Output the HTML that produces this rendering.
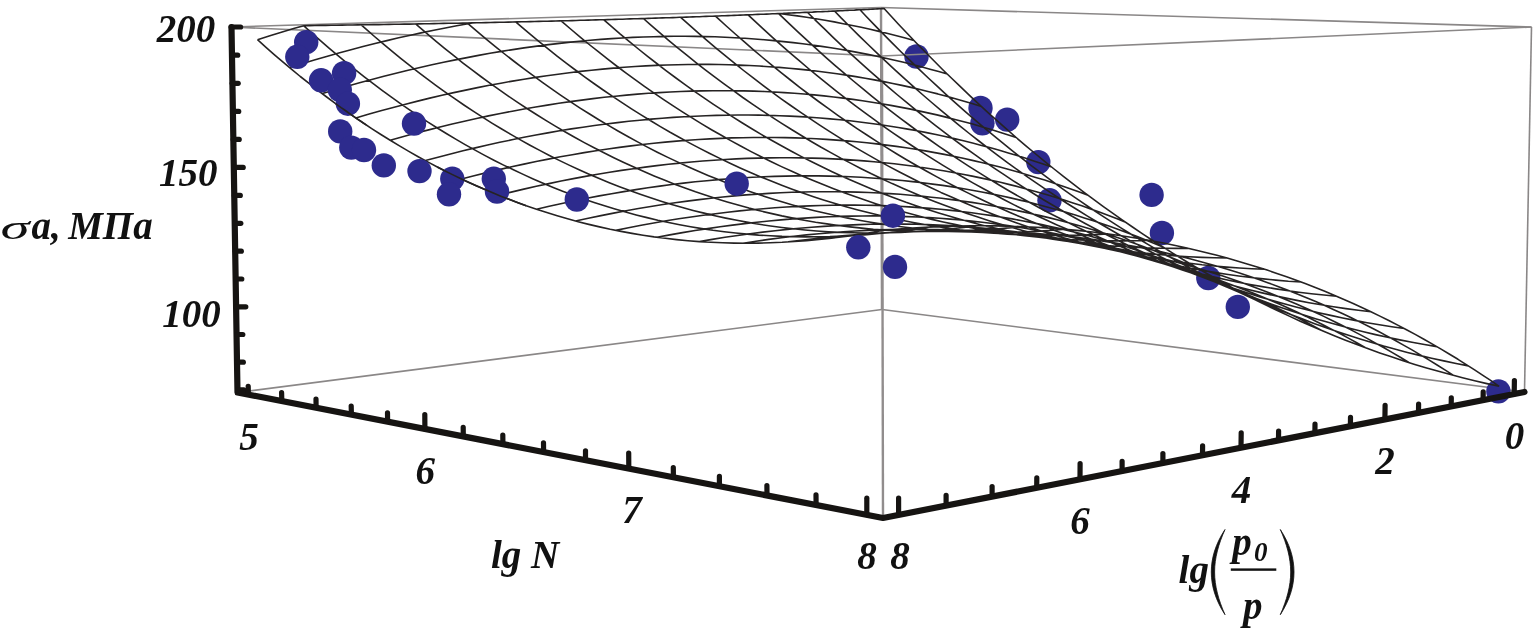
<!DOCTYPE html>
<html><head><meta charset="utf-8"><title>chart</title>
<style>
html,body{margin:0;padding:0;background:#fff;}
body{width:1535px;height:630px;overflow:hidden;font-family:"Liberation Serif",serif;}
svg{display:block}
.bx{stroke:#8a8787;stroke-width:1.6;fill:none}
.bv{stroke-width:2.4;stroke:#918d8d}
.mesh{stroke:#262323;stroke-width:1.6;fill:none;stroke-linejoin:round}
.ax path{stroke:#161412;stroke-width:6.2;fill:none;stroke-linecap:round;stroke-linejoin:round}
.par{stroke:#111;stroke-width:0.8;fill:#111;stroke-linejoin:round}
.ax path.tk{stroke-width:5.2}
text{font-family:"Liberation Serif",serif;font-weight:bold;font-style:italic;fill:#111}
</style></head><body>
<svg width="1535" height="630" viewBox="0 0 1535 630">
<rect width="1535" height="630" fill="#fff"/>
<g class="box"><line class="bx" x1="237.5" y1="392.5" x2="882.0" y2="309.5"/><line class="bx" x1="882.0" y1="309.5" x2="1524.5" y2="392.0"/></g>
<g fill="#2d2b8d">
<circle cx="916.5" cy="56.5" r="12.2"/>
<circle cx="980.5" cy="107.9" r="12.2"/>
<circle cx="982.4" cy="123.3" r="12.2"/>
<circle cx="1007.2" cy="119.6" r="12.2"/>
<circle cx="1038.3" cy="162.1" r="12.2"/>
<circle cx="1049.5" cy="200.3" r="12.2"/>
<circle cx="1151.6" cy="194.9" r="12.2"/>
<circle cx="1161.9" cy="233.0" r="12.2"/>
<circle cx="1208.3" cy="278.0" r="12.2"/>
<circle cx="1237.8" cy="306.9" r="12.2"/>
<circle cx="1498.4" cy="391.4" r="12.2"/>
</g>
<g class="box">
<line class="bx" x1="231.5" y1="27.0" x2="881.0" y2="7.5"/>
<line class="bx" x1="881.0" y1="7.5" x2="1531.5" y2="27.0"/>
<line class="bx" x1="231.5" y1="27.0" x2="882.0" y2="56.0"/>
<line class="bx" x1="882.0" y1="56.0" x2="1531.5" y2="27.0"/>
<line class="bx" x1="1524.5" y1="392.0" x2="1531.5" y2="27.0"/>
<line class="bx bv" x1="882.0" y1="309.5" x2="881.0" y2="7.5"/>
<line class="bx bv" x1="883.0" y1="518.0" x2="882.0" y2="56.0"/>
</g>
<path class="mesh" d="M303.8 25.7 L294.5 28.3 L282.2 32.0 L269.9 35.8 L257.5 39.7 M913.9 40.4 L905.3 38.0 L896.6 35.7 L887.8 33.5 L879.0 31.4 L870.1 29.3 L861.2 27.3 L852.3 25.5 L843.2 23.7 L834.2 21.9 L825.0 20.3 L815.9 18.8 L806.6 17.3 L797.3 15.9 L788.0 14.7 L779.2 13.5 M473.5 22.8 L468.1 23.8 L456.7 25.8 L445.3 28.0 L433.8 30.2 L422.2 32.6 L410.5 35.2 L398.7 37.8 L386.9 40.6 L375.0 43.5 L363.0 46.6 L351.0 49.7 L338.8 53.0 L326.6 56.5 L314.3 60.0 L302.0 63.7 L289.5 67.6 M947.3 74.1 L938.7 71.6 L930.0 69.2 L921.3 66.8 L912.5 64.5 L903.6 62.3 L894.7 60.2 L885.8 58.2 L876.8 56.2 L867.7 54.4 L858.6 52.6 L849.4 50.9 L840.2 49.3 L830.9 47.8 L821.6 46.4 L812.2 45.0 L802.7 43.8 L793.2 42.6 L783.6 41.6 L774.0 40.6 L764.3 39.7 L754.6 39.0 L744.8 38.3 L734.9 37.7 L725.0 37.2 L715.0 36.8 L704.9 36.6 L694.8 36.4 L684.6 36.3 L674.4 36.3 L664.1 36.4 L653.7 36.7 L643.3 37.0 L632.8 37.4 L622.2 38.0 L611.6 38.6 L600.9 39.4 L590.1 40.3 L579.3 41.3 L568.3 42.4 L557.4 43.6 L546.3 44.9 L535.2 46.4 L524.0 47.9 L512.8 49.6 L501.4 51.4 L490.0 53.3 L478.5 55.4 L467.0 57.6 L455.3 59.9 L443.6 62.3 L431.9 64.8 L420.0 67.5 L408.1 70.3 L396.0 73.2 L383.9 76.3 L371.8 79.5 L359.5 82.8 L347.2 86.3 L334.8 89.9 L322.3 93.6 M981.4 106.5 L972.8 103.8 L964.1 101.2 L955.4 98.7 L946.6 96.3 L937.8 93.9 L928.9 91.7 L920.0 89.5 L911.0 87.4 L901.9 85.4 L892.8 83.5 L883.7 81.6 L874.4 79.9 L865.2 78.2 L855.8 76.6 L846.4 75.1 L837.0 73.8 L827.5 72.5 L817.9 71.2 L808.3 70.1 L798.6 69.1 L788.9 68.2 L779.1 67.4 L769.2 66.7 L759.3 66.0 L749.3 65.5 L739.2 65.1 L729.1 64.7 L718.9 64.5 L708.7 64.4 L698.3 64.4 L688.0 64.5 L677.5 64.7 L667.0 65.0 L656.4 65.4 L645.8 65.9 L635.1 66.5 L624.3 67.3 L613.4 68.1 L602.5 69.1 L591.5 70.2 L580.4 71.4 L569.3 72.7 L558.1 74.2 L546.8 75.7 L535.5 77.4 L524.0 79.2 L512.5 81.1 L500.9 83.2 L489.3 85.3 L477.5 87.6 L465.7 90.1 L453.8 92.6 L441.9 95.3 L429.8 98.1 L417.7 101.1 L405.5 104.2 L393.2 107.4 L380.8 110.7 L368.3 114.2 L355.8 117.9 M1016.2 137.5 L1007.6 134.7 L999.0 131.9 L990.3 129.2 L981.5 126.7 L972.7 124.1 L963.8 121.7 L954.9 119.4 L945.9 117.1 L936.9 114.9 L927.8 112.9 L918.6 110.9 L909.4 108.9 L900.1 107.1 L890.8 105.4 L881.4 103.8 L872.0 102.2 L862.5 100.8 L852.9 99.4 L843.3 98.1 L833.6 97.0 L823.9 95.9 L814.1 94.9 L804.2 94.0 L794.3 93.3 L784.3 92.6 L774.2 92.0 L764.1 91.5 L753.9 91.1 L743.7 90.9 L733.4 90.7 L723.0 90.7 L712.5 90.7 L702.0 90.9 L691.4 91.1 L680.8 91.5 L670.1 92.0 L659.3 92.6 L648.4 93.3 L637.5 94.1 L626.4 95.1 L615.4 96.2 L604.2 97.3 L593.0 98.6 L581.7 100.1 L570.3 101.6 L558.8 103.3 L547.3 105.1 L535.7 107.0 L524.0 109.0 L512.3 111.2 L500.4 113.5 L488.5 115.9 L476.5 118.5 L464.4 121.2 L452.2 124.0 L440.0 127.0 L427.7 130.1 L415.2 133.3 L402.7 136.7 L390.2 140.2 M1051.7 167.1 L1043.2 164.1 L1034.5 161.2 L1025.8 158.3 L1017.1 155.6 L1008.3 152.9 L999.4 150.3 L990.5 147.8 L981.6 145.4 L972.5 143.0 L963.5 140.8 L954.3 138.6 L945.1 136.5 L935.9 134.5 L926.6 132.6 L917.2 130.8 L907.8 129.1 L898.3 127.5 L888.7 126.0 L879.1 124.5 L869.4 123.2 L859.7 122.0 L849.9 120.8 L840.0 119.8 L830.1 118.9 L820.1 118.0 L810.1 117.3 L800.0 116.6 L789.8 116.1 L779.5 115.7 L769.2 115.4 L758.8 115.1 L748.4 115.0 L737.8 115.0 L727.2 115.2 L716.6 115.4 L705.8 115.7 L695.0 116.2 L684.2 116.7 L673.2 117.4 L662.2 118.2 L651.1 119.1 L639.9 120.2 L628.7 121.3 L617.4 122.6 L606.0 124.0 L594.5 125.5 L582.9 127.2 L571.3 128.9 L559.6 130.8 L547.8 132.9 L535.9 135.0 L524.0 137.3 L511.9 139.8 L499.8 142.3 L487.6 145.0 L475.3 147.9 L463.0 150.8 L450.5 154.0 L438.0 157.2 L425.4 160.6 M1088.0 195.3 L1079.4 192.1 L1070.8 189.0 L1062.2 185.9 L1053.4 183.0 L1044.7 180.1 L1035.8 177.4 L1026.9 174.7 L1018.0 172.1 L1009.0 169.6 L999.9 167.1 L990.8 164.8 L981.6 162.5 L972.4 160.4 L963.1 158.3 L953.7 156.3 L944.3 154.4 L934.8 152.6 L925.3 150.9 L915.7 149.3 L906.0 147.8 L896.3 146.4 L886.5 145.1 L876.7 143.9 L866.8 142.8 L856.8 141.8 L846.7 140.9 L836.6 140.1 L826.4 139.4 L816.2 138.8 L805.8 138.3 L795.5 137.9 L785.0 137.6 L774.5 137.5 L763.9 137.4 L753.2 137.5 L742.5 137.7 L731.7 137.9 L720.8 138.4 L709.8 138.9 L698.8 139.5 L687.7 140.3 L676.5 141.1 L665.2 142.1 L653.9 143.3 L642.5 144.5 L631.0 145.9 L619.4 147.4 L607.8 149.0 L596.0 150.8 L584.2 152.6 L572.3 154.7 L560.3 156.8 L548.3 159.1 L536.1 161.5 L523.9 164.1 L511.6 166.8 L499.2 169.6 L486.7 172.6 L474.1 175.7 L461.4 179.0 M1125.0 221.9 L1116.5 218.5 L1107.9 215.2 L1099.3 212.0 L1090.6 208.9 L1081.8 205.8 L1073.0 202.9 L1064.1 200.0 L1055.2 197.2 L1046.2 194.5 L1037.2 191.9 L1028.1 189.4 L1018.9 186.9 L1009.7 184.6 L1000.4 182.3 L991.1 180.2 L981.7 178.1 L972.2 176.1 L962.7 174.2 L953.1 172.5 L943.5 170.8 L933.8 169.2 L924.0 167.7 L914.1 166.3 L904.2 165.0 L894.3 163.8 L884.2 162.7 L874.1 161.7 L863.9 160.9 L853.7 160.1 L843.4 159.4 L833.0 158.9 L822.5 158.4 L812.0 158.1 L801.4 157.9 L790.7 157.7 L780.0 157.7 L769.2 157.9 L758.3 158.1 L747.3 158.4 L736.3 158.9 L725.2 159.5 L714.0 160.2 L702.7 161.0 L691.3 162.0 L679.9 163.1 L668.4 164.3 L656.8 165.6 L645.1 167.1 L633.4 168.7 L621.5 170.4 L609.6 172.3 L597.6 174.3 L585.5 176.4 L573.4 178.6 L561.1 181.0 L548.8 183.6 L536.3 186.3 L523.8 189.1 L511.2 192.1 L498.5 195.2 M1162.9 247.0 L1154.4 243.4 L1145.8 239.9 L1137.2 236.5 L1128.5 233.2 L1119.8 230.0 L1111.0 226.8 L1102.2 223.7 L1093.3 220.8 L1084.3 217.9 L1075.3 215.0 L1066.2 212.3 L1057.1 209.7 L1047.9 207.2 L1038.6 204.7 L1029.3 202.3 L1019.9 200.1 L1010.5 197.9 L1001.0 195.8 L991.4 193.9 L981.8 192.0 L972.1 190.2 L962.3 188.5 L952.5 186.9 L942.6 185.4 L932.6 184.1 L922.6 182.8 L912.5 181.6 L902.3 180.5 L892.1 179.6 L881.8 178.7 L871.4 178.0 L861.0 177.3 L850.4 176.8 L839.8 176.4 L829.2 176.1 L818.4 175.9 L807.6 175.9 L796.7 175.9 L785.7 176.1 L774.7 176.4 L763.6 176.8 L752.4 177.3 L741.1 178.0 L729.7 178.7 L718.3 179.6 L706.8 180.7 L695.2 181.8 L683.5 183.1 L671.7 184.5 L659.8 186.1 L647.9 187.8 L635.9 189.6 L623.8 191.6 L611.6 193.7 L599.3 195.9 L586.9 198.3 L574.4 200.8 L561.9 203.5 L549.2 206.3 L536.5 209.2 M1201.6 270.5 L1193.1 266.7 L1184.6 263.0 L1176.0 259.4 L1167.4 255.9 L1158.7 252.5 L1149.9 249.1 L1141.1 245.8 L1132.2 242.6 L1123.3 239.5 L1114.3 236.5 L1105.3 233.6 L1096.1 230.7 L1087.0 228.0 L1077.7 225.3 L1068.4 222.8 L1059.1 220.3 L1049.7 217.9 L1040.2 215.6 L1030.6 213.5 L1021.0 211.4 L1011.3 209.4 L1001.6 207.5 L991.8 205.7 L981.9 204.0 L971.9 202.4 L961.9 201.0 L951.8 199.6 L941.7 198.3 L931.4 197.2 L921.1 196.1 L910.8 195.2 L900.3 194.3 L889.8 193.6 L879.2 193.0 L868.6 192.5 L857.8 192.1 L847.0 191.9 L836.1 191.7 L825.1 191.7 L814.1 191.8 L803.0 192.0 L791.8 192.3 L780.5 192.8 L769.1 193.4 L757.6 194.1 L746.1 194.9 L734.5 195.9 L722.8 197.0 L711.0 198.2 L699.1 199.6 L687.2 201.1 L675.1 202.8 L663.0 204.5 L650.8 206.5 L638.5 208.5 L626.1 210.7 L613.6 213.1 L601.0 215.6 L588.3 218.2 L575.5 221.0 M1241.1 292.4 L1232.7 288.4 L1224.2 284.5 L1215.7 280.7 L1207.1 276.9 L1198.4 273.3 L1189.7 269.7 L1180.9 266.2 L1172.1 262.8 L1163.2 259.4 L1154.2 256.2 L1145.2 253.1 L1136.1 250.0 L1127.0 247.1 L1117.8 244.2 L1108.5 241.4 L1099.2 238.7 L1089.8 236.1 L1080.3 233.6 L1070.8 231.2 L1061.2 228.9 L1051.5 226.7 L1041.8 224.6 L1032.0 222.6 L1022.1 220.7 L1012.2 218.9 L1002.2 217.2 L992.1 215.6 L982.0 214.2 L971.8 212.8 L961.5 211.5 L951.1 210.4 L940.7 209.3 L930.2 208.4 L919.6 207.6 L909.0 206.9 L898.2 206.3 L887.4 205.8 L876.5 205.4 L865.6 205.2 L854.5 205.1 L843.4 205.1 L832.2 205.2 L820.9 205.5 L809.5 205.9 L798.0 206.4 L786.5 207.0 L774.9 207.8 L763.2 208.7 L751.4 209.7 L739.5 210.9 L727.5 212.2 L715.5 213.7 L703.3 215.2 L691.1 217.0 L678.7 218.8 L666.3 220.8 L653.8 223.0 L641.2 225.3 L628.5 227.8 L615.7 230.4 M1281.6 312.6 L1273.2 308.4 L1264.8 304.2 L1256.3 300.2 L1247.7 296.2 L1239.1 292.3 L1230.4 288.5 L1221.7 284.8 L1212.9 281.1 L1204.0 277.6 L1195.1 274.1 L1186.1 270.8 L1177.0 267.5 L1167.9 264.3 L1158.8 261.2 L1149.5 258.2 L1140.2 255.3 L1130.9 252.4 L1121.4 249.7 L1111.9 247.1 L1102.4 244.6 L1092.7 242.1 L1083.0 239.8 L1073.3 237.6 L1063.4 235.4 L1053.5 233.4 L1043.5 231.5 L1033.5 229.7 L1023.3 228.0 L1013.1 226.4 L1002.9 224.9 L992.5 223.5 L982.1 222.2 L971.6 221.1 L961.1 220.0 L950.4 219.1 L939.7 218.3 L928.9 217.6 L918.0 217.0 L907.0 216.6 L896.0 216.2 L884.9 216.0 L873.7 215.9 L862.4 216.0 L851.0 216.1 L839.5 216.4 L828.0 216.8 L816.4 217.4 L804.6 218.1 L792.8 218.9 L781.0 219.9 L769.0 221.0 L756.9 222.2 L744.7 223.6 L732.5 225.1 L720.1 226.7 L707.7 228.6 L695.1 230.5 L682.5 232.6 L669.8 234.9 L656.9 237.3 M1323.0 331.1 L1314.7 326.6 L1306.3 322.2 L1297.8 317.9 L1289.3 313.7 L1280.7 309.6 L1272.1 305.5 L1263.4 301.6 L1254.6 297.7 L1245.8 293.9 L1236.9 290.2 L1228.0 286.6 L1219.0 283.0 L1209.9 279.6 L1200.8 276.3 L1191.6 273.0 L1182.3 269.9 L1173.0 266.8 L1163.6 263.8 L1154.1 261.0 L1144.6 258.2 L1135.0 255.5 L1125.3 252.9 L1115.5 250.5 L1105.7 248.1 L1095.8 245.8 L1085.9 243.7 L1075.9 241.6 L1065.8 239.7 L1055.6 237.8 L1045.3 236.1 L1035.0 234.5 L1024.6 233.0 L1014.1 231.6 L1003.6 230.3 L993.0 229.1 L982.2 228.1 L971.5 227.2 L960.6 226.3 L949.6 225.6 L938.6 225.1 L927.5 224.6 L916.3 224.3 L905.0 224.1 L893.6 224.0 L882.2 224.1 L870.6 224.3 L859.0 224.6 L847.3 225.1 L835.5 225.7 L823.6 226.4 L811.6 227.3 L799.5 228.3 L787.3 229.4 L775.1 230.7 L762.7 232.1 L750.2 233.7 L737.7 235.5 L725.0 237.3 L712.2 239.4 L699.4 241.6 M1365.5 347.7 L1357.2 343.0 L1348.8 338.4 L1340.4 333.8 L1331.9 329.4 L1323.4 325.0 L1314.8 320.7 L1306.2 316.4 L1297.4 312.3 L1288.7 308.3 L1279.8 304.3 L1270.9 300.4 L1262.0 296.7 L1252.9 293.0 L1243.8 289.4 L1234.7 285.9 L1225.4 282.5 L1216.1 279.1 L1206.8 275.9 L1197.4 272.8 L1187.9 269.8 L1178.3 266.8 L1168.6 264.0 L1158.9 261.3 L1149.2 258.7 L1139.3 256.1 L1129.4 253.7 L1119.4 251.4 L1109.3 249.2 L1099.2 247.1 L1088.9 245.1 L1078.6 243.3 L1068.3 241.5 L1057.8 239.8 L1047.3 238.3 L1036.7 236.9 L1026.0 235.6 L1015.2 234.4 L1004.3 233.3 L993.4 232.4 L982.4 231.6 L971.3 230.9 L960.1 230.3 L948.8 229.8 L937.5 229.5 L926.0 229.3 L914.5 229.3 L902.8 229.4 L891.1 229.6 L879.3 229.9 L867.4 230.4 L855.4 231.0 L843.3 231.8 L831.2 232.7 L818.9 233.7 L806.5 234.9 L794.0 236.3 L781.5 237.8 L768.8 239.4 L756.0 241.2 L743.1 243.2 M1408.9 362.5 L1400.7 357.5 L1392.4 352.6 L1384.0 347.8 L1375.6 343.1 L1367.1 338.4 L1358.6 333.9 L1350.0 329.4 L1341.3 325.0 L1332.6 320.7 L1323.8 316.4 L1315.0 312.3 L1306.0 308.3 L1297.0 304.3 L1288.0 300.4 L1278.9 296.7 L1269.7 293.0 L1260.4 289.4 L1251.1 285.9 L1241.7 282.5 L1232.3 279.2 L1222.8 276.0 L1213.2 272.9 L1203.5 269.9 L1193.7 267.0 L1183.9 264.2 L1174.0 261.5 L1164.1 259.0 L1154.0 256.5 L1143.9 254.1 L1133.7 251.9 L1123.5 249.7 L1113.1 247.7 L1102.7 245.8 L1092.2 244.0 L1081.6 242.3 L1070.9 240.7 L1060.2 239.2 L1049.3 237.9 L1038.4 236.7 L1027.4 235.6 L1016.3 234.6 L1005.2 233.8 L993.9 233.1 L982.6 232.5 L971.1 232.0 L959.6 231.7 L948.0 231.5 L936.3 231.5 L924.5 231.5 L912.6 231.8 L900.6 232.1 L888.5 232.6 L876.3 233.3 L864.0 234.1 L851.6 235.0 L839.1 236.1 L826.6 237.3 L813.9 238.7 L801.1 240.2 L788.2 241.9 M1453.5 375.4 L1445.3 370.1 L1437.1 365.0 L1428.8 359.9 L1420.4 354.9 L1412.0 349.9 L1403.5 345.1 L1394.9 340.3 L1386.3 335.6 L1377.7 331.0 L1368.9 326.5 L1360.1 322.1 L1351.3 317.8 L1342.3 313.5 L1333.3 309.4 L1324.3 305.3 L1315.1 301.3 L1305.9 297.5 L1296.7 293.7 L1287.3 290.0 L1277.9 286.4 L1268.4 282.9 L1258.9 279.5 L1249.2 276.3 L1239.5 273.1 L1229.8 270.0 L1219.9 267.0 L1210.0 264.2 L1200.0 261.4 L1189.9 258.7 L1179.8 256.2 L1169.5 253.8 L1159.2 251.4 L1148.8 249.2 L1138.3 247.1 L1127.8 245.2 L1117.1 243.3 L1106.4 241.6 L1095.6 239.9 L1084.7 238.4 L1073.8 237.1 L1062.7 235.8 L1051.5 234.7 L1040.3 233.7 L1029.0 232.8 L1017.5 232.1 L1006.0 231.4 L994.4 231.0 L982.7 230.6 L970.9 230.4 L959.0 230.4 L947.1 230.4 L935.0 230.7 L922.8 231.0 L910.5 231.5 L898.1 232.2 L885.6 233.0 L873.1 233.9 L860.4 235.0 L847.6 236.3 L834.7 237.7 M1499.2 386.3 L1491.0 380.7 L1482.9 375.3 L1474.6 369.9 L1466.3 364.6 L1458.0 359.3 L1449.6 354.2 L1441.1 349.1 L1432.5 344.1 L1423.9 339.2 L1415.2 334.4 L1406.5 329.7 L1397.7 325.1 L1388.8 320.5 L1379.9 316.1 L1370.9 311.7 L1361.8 307.5 L1352.6 303.3 L1343.4 299.2 L1334.1 295.2 L1324.8 291.3 L1315.3 287.5 L1305.8 283.8 L1296.3 280.3 L1286.6 276.8 L1276.9 273.4 L1267.1 270.1 L1257.2 266.9 L1247.2 263.9 L1237.2 260.9 L1227.1 258.0 L1216.9 255.3 L1206.6 252.7 L1196.3 250.2 L1185.8 247.8 L1175.3 245.5 L1164.7 243.3 L1154.0 241.3 L1143.3 239.3 L1132.4 237.5 L1121.4 235.8 L1110.4 234.3 L1099.3 232.8 L1088.1 231.5 L1076.8 230.4 L1065.4 229.3 L1053.9 228.4 L1042.3 227.6 L1030.6 227.0 L1018.8 226.5 L1007.0 226.1 L995.0 225.9 L982.9 225.8 L970.7 225.8 L958.5 226.0 L946.1 226.4 L933.6 226.9 L921.0 227.5 L908.3 228.3 L895.5 229.3 L882.6 230.4 M884.1 8.5 L889.8 14.8 L898.5 24.2 L907.3 33.5 L916.1 42.7 L925.0 51.8 L933.9 60.8 L942.8 69.7 L951.9 78.5 L960.9 87.2 L970.0 95.9 L979.1 104.4 L988.3 112.8 L997.6 121.2 L1006.9 129.4 L1016.2 137.5 L1025.6 145.6 L1035.1 153.5 L1044.6 161.3 L1054.1 169.0 L1063.7 176.7 L1073.4 184.2 L1083.1 191.6 L1092.9 198.9 L1102.7 206.1 L1112.6 213.2 L1122.5 220.2 L1132.5 227.0 L1142.6 233.8 L1152.7 240.5 L1162.9 247.0 L1173.1 253.4 L1183.4 259.7 L1193.8 265.9 L1204.2 272.0 L1214.7 278.0 L1225.2 283.8 L1235.8 289.6 L1246.5 295.2 L1257.2 300.7 L1268.0 306.1 L1278.9 311.3 L1289.8 316.4 L1300.8 321.4 L1311.9 326.3 L1323.0 331.1 L1334.3 335.7 L1345.5 340.2 L1356.9 344.5 L1368.3 348.8 L1379.8 352.9 L1391.4 356.8 L1403.1 360.7 L1414.8 364.4 L1426.6 367.9 L1438.5 371.3 L1450.5 374.6 L1462.5 377.7 L1474.7 380.7 L1486.9 383.6 L1499.2 386.3 M860.0 9.8 L865.8 16.0 L874.6 25.1 L883.4 34.1 L892.3 43.1 L901.2 52.0 L910.2 60.7 L919.2 69.4 L928.3 78.0 L937.4 86.4 L946.5 94.8 L955.7 103.1 L965.0 111.3 L974.3 119.3 L983.7 127.3 L993.1 135.2 L1002.6 142.9 L1012.1 150.6 L1021.7 158.1 L1031.3 165.6 L1041.0 172.9 L1050.7 180.1 L1060.5 187.3 L1070.4 194.3 L1080.3 201.2 L1090.3 208.0 L1100.3 214.7 L1110.4 221.2 L1120.5 227.7 L1130.7 234.0 L1141.0 240.3 L1151.3 246.4 L1161.7 252.4 L1172.1 258.2 L1182.6 264.0 L1193.2 269.6 L1203.9 275.1 L1214.6 280.5 L1225.4 285.8 L1236.2 290.9 L1247.1 296.0 L1258.1 300.8 L1269.1 305.6 L1280.3 310.2 L1291.4 314.7 L1302.7 319.1 L1314.0 323.4 L1325.5 327.5 L1336.9 331.4 L1348.5 335.3 L1360.1 339.0 L1371.8 342.5 L1383.6 346.0 L1395.5 349.2 L1407.4 352.4 L1419.5 355.4 L1431.6 358.2 L1443.8 360.9 L1456.1 363.5 L1468.4 365.9 M834.5 11.0 L841.1 17.9 L850.0 26.8 L858.9 35.6 L867.8 44.3 L876.8 52.9 L885.8 61.4 L894.9 69.9 L904.0 78.2 L913.2 86.4 L922.4 94.5 L931.7 102.5 L941.0 110.4 L950.4 118.2 L959.8 125.9 L969.3 133.5 L978.9 141.0 L988.5 148.4 L998.1 155.7 L1007.8 162.8 L1017.6 169.9 L1027.4 176.8 L1037.3 183.7 L1047.2 190.4 L1057.2 197.0 L1067.2 203.5 L1077.3 209.8 L1087.5 216.1 L1097.7 222.2 L1108.0 228.3 L1118.4 234.2 L1128.8 239.9 L1139.3 245.6 L1149.8 251.2 L1160.5 256.6 L1171.1 261.9 L1181.9 267.0 L1192.7 272.1 L1203.6 277.0 L1214.5 281.8 L1225.5 286.4 L1236.6 291.0 L1247.8 295.3 L1259.0 299.6 L1270.3 303.7 L1281.7 307.7 L1293.2 311.6 L1304.7 315.3 L1316.3 318.9 L1328.0 322.3 L1339.8 325.6 L1351.6 328.7 L1363.5 331.7 L1375.5 334.6 L1387.6 337.3 L1399.8 339.9 L1412.0 342.3 L1424.4 344.5 L1436.8 346.6 M807.4 12.3 L815.8 20.6 L824.7 29.2 L833.6 37.8 L842.6 46.3 L851.6 54.7 L860.7 62.9 L869.9 71.1 L879.1 79.2 L888.3 87.1 L897.6 95.0 L906.9 102.7 L916.3 110.4 L925.8 117.9 L935.3 125.3 L944.8 132.7 L954.4 139.9 L964.1 147.0 L973.8 153.9 L983.6 160.8 L993.4 167.6 L1003.3 174.2 L1013.3 180.8 L1023.3 187.2 L1033.4 193.5 L1043.5 199.7 L1053.7 205.7 L1064.0 211.7 L1074.3 217.5 L1084.7 223.2 L1095.1 228.8 L1105.6 234.2 L1116.2 239.5 L1126.8 244.7 L1137.5 249.8 L1148.3 254.8 L1159.2 259.6 L1170.1 264.3 L1181.1 268.8 L1192.1 273.2 L1203.3 277.5 L1214.5 281.7 L1225.7 285.7 L1237.1 289.6 L1248.5 293.3 L1260.0 296.9 L1271.6 300.3 L1283.2 303.6 L1295.0 306.8 L1306.8 309.8 L1318.7 312.7 L1330.7 315.4 L1342.7 318.0 L1354.9 320.4 L1367.1 322.7 L1379.4 324.8 L1391.8 326.7 L1404.3 328.5 M778.7 13.6 L780.8 15.6 L789.7 24.1 L798.7 32.6 L807.7 40.9 L816.7 49.1 L825.8 57.3 L834.9 65.3 L844.1 73.2 L853.4 81.0 L862.7 88.7 L872.0 96.3 L881.4 103.8 L890.9 111.1 L900.4 118.4 L910.0 125.5 L919.6 132.6 L929.3 139.5 L939.0 146.3 L948.8 153.0 L958.7 159.6 L968.6 166.1 L978.6 172.4 L988.6 178.6 L998.7 184.7 L1008.8 190.7 L1019.1 196.6 L1029.3 202.3 L1039.7 208.0 L1050.1 213.5 L1060.6 218.8 L1071.1 224.1 L1081.7 229.2 L1092.4 234.2 L1103.1 239.0 L1113.9 243.7 L1124.8 248.3 L1135.7 252.8 L1146.8 257.1 L1157.8 261.3 L1169.0 265.3 L1180.2 269.2 L1191.6 273.0 L1203.0 276.6 L1214.4 280.1 L1226.0 283.5 L1237.6 286.7 L1249.3 289.7 L1261.1 292.6 L1272.9 295.3 L1284.9 297.9 L1296.9 300.4 L1309.0 302.7 L1321.2 304.8 L1333.5 306.8 L1345.9 308.6 L1358.3 310.2 L1370.9 311.7 M748.1 14.8 L754.0 20.3 L762.9 28.6 L771.9 36.8 L780.9 44.9 L790.0 52.9 L799.2 60.7 L808.4 68.5 L817.7 76.1 L827.0 83.7 L836.3 91.1 L845.7 98.4 L855.2 105.6 L864.7 112.7 L874.3 119.7 L883.9 126.6 L893.6 133.4 L903.4 140.0 L913.2 146.5 L923.1 152.9 L933.0 159.2 L943.0 165.4 L953.0 171.4 L963.1 177.3 L973.3 183.1 L983.5 188.8 L993.8 194.3 L1004.2 199.8 L1014.6 205.1 L1025.1 210.2 L1035.7 215.2 L1046.3 220.1 L1057.0 224.9 L1067.8 229.6 L1078.6 234.1 L1089.5 238.4 L1100.5 242.6 L1111.5 246.7 L1122.7 250.7 L1133.8 254.5 L1145.1 258.2 L1156.5 261.7 L1167.9 265.0 L1179.4 268.3 L1191.0 271.4 L1202.6 274.3 L1214.4 277.1 L1226.2 279.7 L1238.1 282.2 L1250.1 284.5 L1262.2 286.6 L1274.3 288.6 L1286.6 290.5 L1298.9 292.2 L1311.3 293.7 L1323.9 295.0 L1336.5 296.2 M715.5 16.1 L717.4 17.8 L726.3 26.0 L735.3 34.0 L744.4 41.9 L753.5 49.8 L762.6 57.5 L771.8 65.1 L781.1 72.6 L790.4 80.0 L799.7 87.3 L809.2 94.5 L818.6 101.5 L828.2 108.4 L837.8 115.3 L847.4 122.0 L857.1 128.6 L866.9 135.0 L876.7 141.4 L886.6 147.6 L896.5 153.7 L906.5 159.7 L916.5 165.5 L926.7 171.3 L936.9 176.9 L947.1 182.4 L957.4 187.7 L967.8 192.9 L978.2 198.0 L988.8 203.0 L999.3 207.8 L1010.0 212.5 L1020.7 217.0 L1031.5 221.5 L1042.4 225.7 L1053.3 229.9 L1064.3 233.9 L1075.4 237.7 L1086.5 241.4 L1097.7 245.0 L1109.0 248.4 L1120.4 251.7 L1131.9 254.8 L1143.4 257.8 L1155.0 260.6 L1166.7 263.3 L1178.5 265.8 L1190.4 268.2 L1202.3 270.4 L1214.4 272.4 L1226.5 274.3 L1238.7 276.0 L1251.0 277.5 L1263.4 278.9 L1275.8 280.1 L1288.4 281.2 L1301.1 282.0 M680.7 17.3 L688.9 24.7 L697.9 32.6 L706.9 40.4 L716.0 48.1 L725.2 55.7 L734.4 63.1 L743.6 70.5 L752.9 77.7 L762.3 84.9 L771.7 91.9 L781.2 98.8 L790.7 105.5 L800.3 112.2 L810.0 118.7 L819.7 125.2 L829.4 131.4 L839.3 137.6 L849.1 143.7 L859.1 149.6 L869.1 155.4 L879.2 161.1 L889.3 166.6 L899.5 172.0 L909.8 177.3 L920.1 182.5 L930.5 187.5 L940.9 192.4 L951.5 197.1 L962.1 201.8 L972.7 206.2 L983.5 210.6 L994.3 214.8 L1005.2 218.8 L1016.1 222.7 L1027.1 226.5 L1038.2 230.1 L1049.4 233.6 L1060.7 237.0 L1072.0 240.1 L1083.4 243.2 L1094.9 246.0 L1106.4 248.8 L1118.1 251.3 L1129.8 253.7 L1141.6 256.0 L1153.5 258.1 L1165.5 260.0 L1177.6 261.7 L1189.8 263.3 L1202.0 264.8 L1214.3 266.0 L1226.8 267.1 L1239.3 268.0 L1251.9 268.7 L1264.6 269.3 M643.4 18.5 L650.6 24.8 L659.6 32.6 L668.6 40.3 L677.7 47.8 L686.8 55.2 L696.0 62.6 L705.3 69.8 L714.6 76.9 L724.0 83.9 L733.4 90.7 L742.8 97.5 L752.4 104.1 L762.0 110.6 L771.6 116.9 L781.3 123.2 L791.1 129.3 L800.9 135.3 L810.8 141.2 L820.7 147.0 L830.8 152.6 L840.8 158.1 L851.0 163.4 L861.2 168.7 L871.4 173.8 L881.8 178.7 L892.2 183.6 L902.7 188.2 L913.2 192.8 L923.8 197.2 L934.5 201.5 L945.2 205.6 L956.1 209.6 L967.0 213.4 L977.9 217.1 L989.0 220.7 L1000.1 224.1 L1011.3 227.3 L1022.6 230.4 L1033.9 233.3 L1045.3 236.1 L1056.9 238.7 L1068.5 241.2 L1080.1 243.5 L1091.9 245.7 L1103.7 247.6 L1115.7 249.4 L1127.7 251.1 L1139.8 252.6 L1152.0 253.9 L1164.3 255.0 L1176.6 256.0 L1189.1 256.8 L1201.7 257.4 L1214.3 257.8 L1227.1 258.0 M603.6 19.7 L611.4 26.4 L620.3 34.1 L629.4 41.6 L638.4 49.0 L647.6 56.3 L656.8 63.5 L666.0 70.6 L675.3 77.5 L684.7 84.3 L694.1 91.1 L703.6 97.6 L713.1 104.1 L722.7 110.4 L732.3 116.7 L742.0 122.8 L751.8 128.7 L761.6 134.6 L771.5 140.3 L781.4 145.8 L791.4 151.3 L801.5 156.6 L811.7 161.8 L821.9 166.8 L832.1 171.7 L842.5 176.5 L852.9 181.1 L863.4 185.6 L873.9 190.0 L884.5 194.2 L895.2 198.2 L906.0 202.2 L916.8 205.9 L927.7 209.6 L938.7 213.0 L949.8 216.3 L960.9 219.5 L972.1 222.5 L983.4 225.4 L994.8 228.1 L1006.2 230.6 L1017.8 233.0 L1029.4 235.2 L1041.1 237.3 L1052.9 239.1 L1064.7 240.9 L1076.7 242.4 L1088.8 243.8 L1100.9 245.0 L1113.1 246.0 L1125.4 246.8 L1137.9 247.5 L1150.4 248.0 L1163.0 248.3 L1175.7 248.4 L1188.5 248.4 M561.1 20.8 L562.3 21.9 L571.2 29.5 L580.2 37.1 L589.2 44.5 L598.3 51.7 L607.4 58.9 L616.6 66.0 L625.8 72.9 L635.1 79.7 L644.4 86.4 L653.8 92.9 L663.3 99.4 L672.8 105.7 L682.4 111.9 L692.0 117.9 L701.7 123.9 L711.5 129.7 L721.3 135.3 L731.2 140.9 L741.1 146.3 L751.1 151.6 L761.2 156.7 L771.3 161.7 L781.5 166.6 L791.8 171.3 L802.2 175.9 L812.6 180.3 L823.1 184.6 L833.6 188.8 L844.2 192.8 L854.9 196.6 L865.7 200.3 L876.5 203.9 L887.4 207.3 L898.4 210.5 L909.5 213.6 L920.6 216.6 L931.9 219.4 L943.2 222.0 L954.6 224.4 L966.0 226.7 L977.6 228.9 L989.2 230.8 L1000.9 232.6 L1012.7 234.2 L1024.6 235.7 L1036.6 237.0 L1048.7 238.1 L1060.9 239.0 L1073.1 239.7 L1085.5 240.3 L1097.9 240.7 L1110.4 240.9 L1123.1 240.9 L1135.8 240.7 L1148.7 240.3 M515.7 21.9 L521.2 26.7 L530.1 34.2 L539.1 41.6 L548.1 48.9 L557.1 56.1 L566.2 63.1 L575.4 70.0 L584.6 76.8 L593.9 83.5 L603.2 90.0 L612.6 96.4 L622.0 102.7 L631.5 108.9 L641.1 114.9 L650.7 120.8 L660.4 126.6 L670.1 132.3 L680.0 137.8 L689.8 143.1 L699.8 148.4 L709.8 153.5 L719.8 158.4 L730.0 163.3 L740.2 168.0 L750.4 172.5 L760.8 176.9 L771.2 181.1 L781.7 185.2 L792.2 189.2 L802.8 193.0 L813.5 196.7 L824.3 200.2 L835.1 203.5 L846.0 206.7 L857.0 209.7 L868.1 212.6 L879.3 215.3 L890.5 217.9 L901.8 220.3 L913.2 222.5 L924.7 224.5 L936.3 226.4 L947.9 228.1 L959.6 229.7 L971.5 231.0 L983.4 232.2 L995.4 233.2 L1007.5 234.1 L1019.7 234.7 L1031.9 235.2 L1044.3 235.4 L1056.8 235.5 L1069.3 235.4 L1082.0 235.1 L1094.8 234.6 L1107.6 233.9 M467.2 23.0 L470.3 25.7 L479.1 33.2 L488.0 40.6 L496.9 47.8 L505.9 55.0 L514.9 62.0 L524.0 68.9 L533.2 75.7 L542.4 82.4 L551.6 88.9 L560.9 95.3 L570.3 101.6 L579.7 107.8 L589.2 113.8 L598.8 119.7 L608.4 125.4 L618.0 131.0 L627.8 136.5 L637.6 141.9 L647.4 147.1 L657.3 152.2 L667.3 157.1 L677.4 161.9 L687.5 166.6 L697.7 171.1 L708.0 175.4 L718.3 179.6 L728.7 183.7 L739.1 187.6 L749.7 191.4 L760.3 195.0 L771.0 198.4 L781.8 201.7 L792.6 204.9 L803.5 207.9 L814.5 210.7 L825.6 213.3 L836.7 215.8 L848.0 218.1 L859.3 220.3 L870.7 222.3 L882.2 224.1 L893.7 225.7 L905.4 227.2 L917.1 228.5 L929.0 229.6 L940.9 230.5 L952.9 231.3 L965.0 231.8 L977.2 232.2 L989.5 232.4 L1001.9 232.4 L1014.4 232.1 L1027.0 231.7 L1039.7 231.1 L1052.5 230.3 L1065.4 229.3 M415.7 23.9 L418.5 26.4 L427.3 33.9 L436.1 41.3 L444.9 48.6 L453.8 55.7 L462.7 62.8 L471.7 69.7 L480.8 76.5 L489.9 83.1 L499.1 89.7 L508.3 96.1 L517.6 102.3 L526.9 108.5 L536.4 114.5 L545.8 120.4 L555.3 126.1 L564.9 131.7 L574.6 137.2 L584.3 142.6 L594.1 147.8 L603.9 152.8 L613.8 157.7 L623.8 162.5 L633.8 167.1 L643.9 171.6 L654.1 175.9 L664.3 180.1 L674.6 184.2 L685.0 188.0 L695.5 191.8 L706.0 195.3 L716.6 198.8 L727.3 202.0 L738.1 205.1 L748.9 208.1 L759.8 210.8 L770.8 213.4 L781.9 215.9 L793.0 218.1 L804.2 220.2 L815.6 222.2 L826.9 223.9 L838.4 225.5 L850.0 226.9 L861.7 228.1 L873.4 229.2 L885.3 230.0 L897.2 230.7 L909.2 231.2 L921.3 231.4 L933.5 231.5 L945.8 231.4 L958.2 231.1 L970.7 230.6 L983.4 229.9 L996.1 229.0 L1008.9 227.9 L1021.8 226.6 M361.2 24.8 L365.8 28.9 L374.5 36.5 L383.2 43.9 L391.9 51.2 L400.7 58.4 L409.6 65.4 L418.5 72.3 L427.5 79.1 L436.5 85.8 L445.6 92.3 L454.7 98.7 L463.9 105.0 L473.2 111.2 L482.5 117.2 L491.9 123.1 L501.3 128.8 L510.8 134.4 L520.4 139.9 L530.0 145.2 L539.7 150.4 L549.4 155.5 L559.2 160.4 L569.1 165.1 L579.1 169.7 L589.1 174.2 L599.2 178.5 L609.3 182.7 L619.5 186.7 L629.8 190.6 L640.2 194.3 L650.6 197.8 L661.1 201.2 L671.7 204.4 L682.4 207.5 L693.1 210.4 L704.0 213.1 L714.9 215.7 L725.8 218.1 L736.9 220.3 L748.0 222.4 L759.2 224.3 L770.6 226.0 L781.9 227.5 L793.4 228.8 L805.0 230.0 L816.6 231.0 L828.4 231.8 L840.2 232.4 L852.2 232.8 L864.2 233.0 L876.3 233.0 L888.5 232.8 L900.8 232.4 L913.2 231.8 L925.8 231.1 L938.4 230.1 L951.1 228.8 L963.9 227.4 L976.8 225.8 M303.6 25.7 L312.1 33.4 L320.7 40.9 L329.3 48.4 L338.0 55.7 L346.7 62.9 L355.5 69.9 L364.3 76.9 L373.2 83.7 L382.1 90.4 L391.1 96.9 L400.1 103.4 L409.2 109.7 L418.4 115.8 L427.6 121.9 L436.9 127.7 L446.3 133.5 L455.7 139.1 L465.1 144.6 L474.6 149.9 L484.2 155.1 L493.9 160.2 L503.6 165.1 L513.4 169.8 L523.2 174.4 L533.2 178.9 L543.1 183.2 L553.2 187.4 L563.3 191.4 L573.5 195.2 L583.8 198.9 L594.1 202.4 L604.5 205.8 L615.0 209.0 L625.6 212.0 L636.2 214.9 L647.0 217.6 L657.8 220.2 L668.6 222.5 L679.6 224.7 L690.6 226.7 L701.8 228.6 L713.0 230.3 L724.2 231.7 L735.6 233.0 L747.1 234.1 L758.6 235.1 L770.3 235.8 L782.0 236.4 L793.9 236.7 L805.8 236.9 L817.8 236.8 L829.9 236.6 L842.1 236.1 L854.4 235.5 L866.9 234.6 L879.4 233.5 L892.0 232.2 L904.7 230.7 L917.5 229.0 L930.5 227.0 M257.5 39.7 L266.0 47.3 L274.5 54.8 L283.1 62.1 L291.7 69.4 L300.3 76.5 L309.1 83.4 L317.9 90.3 L326.7 97.0 L335.6 103.6 L344.5 110.0 L353.5 116.3 L362.6 122.5 L371.7 128.6 L380.9 134.5 L390.2 140.2 L399.5 145.9 L408.8 151.4 L418.2 156.7 L427.7 161.9 L437.3 167.0 L446.9 171.9 L456.6 176.6 L466.3 181.3 L476.1 185.7 L486.0 190.0 L496.0 194.2 L506.0 198.2 L516.1 202.0 L526.2 205.7 L536.5 209.2 L546.8 212.6 L557.2 215.8 L567.6 218.8 L578.2 221.7 L588.8 224.4 L599.5 226.9 L610.2 229.3 L621.1 231.4 L632.0 233.4 L643.0 235.2 L654.1 236.9 L665.3 238.3 L676.6 239.6 L687.9 240.7 L699.4 241.6 L710.9 242.3 L722.6 242.8 L734.3 243.1 L746.1 243.2 L758.0 243.1 L770.0 242.8 L782.1 242.3 L794.3 241.5 L806.6 240.6 L819.0 239.5 L831.5 238.1 L844.1 236.5 L856.9 234.7 L869.7 232.7 L882.6 230.4 M881.1 8.5 L884.0 8.6 L881.8 8.7 L879.6 8.8 L877.4 8.9 L875.1 9.0 L872.9 9.1 L870.6 9.2 L868.4 9.4 L866.1 9.5 L863.8 9.6 L861.5 9.7 L859.1 9.8 L856.8 9.9 L854.5 10.1 L852.1 10.2 L849.7 10.3 L847.4 10.4 L845.0 10.5 L842.6 10.7 L840.1 10.8 L837.7 10.9 L835.3 11.0 L832.8 11.1 L830.3 11.2 L827.8 11.4 L825.3 11.5 L822.8 11.6 L820.3 11.7 L817.7 11.8 L815.2 11.9 L812.6 12.1 L810.0 12.2 L807.4 12.3 L804.8 12.4 L802.2 12.5 L799.5 12.7 L796.9 12.8 L794.2 12.9 L791.5 13.0 L788.8 13.1 L786.0 13.2 L783.3 13.4 L780.5 13.5 L777.8 13.6 L775.0 13.7 L772.2 13.8 L769.3 14.0 L766.5 14.1 L763.7 14.2 L760.8 14.3 L757.9 14.4 L755.0 14.5 L752.1 14.7 L749.1 14.8 L746.1 14.9 L743.2 15.0 L740.2 15.1 L737.2 15.3 L734.1 15.4 L731.1 15.5 L728.0 15.6 L724.9 15.7 L721.8 15.8 L718.7 16.0 L715.5 16.1 L712.3 16.2 L709.2 16.3 L706.0 16.4 L702.7 16.5 L699.5 16.7 L696.2 16.8 L692.9 16.9 L689.6 17.0 L686.3 17.1 L682.9 17.2 L679.6 17.3 L676.2 17.5 L672.8 17.6 L669.3 17.7 L665.9 17.8 L662.4 17.9 L658.9 18.0 L655.4 18.1 L651.8 18.3 L648.3 18.4 L644.7 18.5 L641.1 18.6 L637.5 18.7 L633.8 18.8 L630.1 18.9 L626.4 19.0 L622.7 19.2 L618.9 19.3 L615.2 19.4 L611.4 19.5 L607.6 19.6 L603.7 19.7 L599.8 19.8 L596.0 19.9 L592.0 20.0 L588.1 20.1 L584.1 20.2 L580.1 20.3 L576.1 20.5 L572.1 20.6 L568.0 20.7 L563.9 20.8 L559.8 20.9 L555.7 21.0 L551.5 21.1 L547.3 21.2 L543.1 21.3 L538.9 21.4 L534.6 21.5 L530.3 21.6 L526.0 21.7 L521.6 21.8 L517.2 21.9 L512.8 22.0 L508.4 22.1 L504.0 22.2 L499.5 22.3 L495.0 22.4 L490.5 22.5 L485.9 22.6 L481.3 22.7 L476.7 22.8 L472.1 22.9 L467.4 23.0 L462.7 23.1 L458.0 23.2 L453.2 23.2 L448.5 23.3 L443.6 23.4 L438.8 23.5 L434.0 23.6 L429.1 23.7 L424.2 23.8 L419.2 23.9 L414.3 24.0 L409.3 24.1 L404.3 24.1 L399.2 24.2 L394.1 24.3 L389.0 24.4 L383.9 24.5 L378.8 24.6 L373.6 24.6 L368.4 24.7 L363.2 24.8 L357.9 24.9 L352.6 25.0 L347.3 25.0 L342.0 25.1 L336.6 25.2 L331.2 25.3 L325.8 25.4 L320.3 25.4 L314.9 25.5 L309.4 25.6 L303.9 25.7 L303.7 25.7"/>
<g fill="#2d2b8d">
<circle cx="306.2" cy="42.2" r="12.2"/>
<circle cx="297.3" cy="56.8" r="12.2"/>
<circle cx="321.1" cy="80.3" r="12.2"/>
<circle cx="344.1" cy="73.2" r="12.2"/>
<circle cx="339.8" cy="89.8" r="12.2"/>
<circle cx="347.9" cy="103.7" r="12.2"/>
<circle cx="414.0" cy="123.6" r="12.2"/>
<circle cx="340.2" cy="131.4" r="12.2"/>
<circle cx="351.3" cy="147.6" r="12.2"/>
<circle cx="364.0" cy="150.0" r="12.2"/>
<circle cx="383.8" cy="165.4" r="12.2"/>
<circle cx="419.5" cy="171.1" r="12.2"/>
<circle cx="452.3" cy="178.8" r="12.2"/>
<circle cx="449.0" cy="194.3" r="12.2"/>
<circle cx="493.8" cy="178.8" r="12.2"/>
<circle cx="497.0" cy="191.5" r="12.2"/>
<circle cx="576.8" cy="199.5" r="12.2"/>
<circle cx="736.7" cy="183.7" r="12.2"/>
<circle cx="892.9" cy="215.7" r="12.2"/>
<circle cx="858.3" cy="247.3" r="12.2"/>
<circle cx="895.0" cy="266.9" r="12.2"/>
</g>
<path class="mesh" d="M335.6 103.6 L338.3 105.6 L341.1 107.6 L343.9 109.5 L346.7 111.5 L349.4 113.5 L352.2 115.4 L355.0 117.3 L357.8 119.3 L360.6 121.2 L363.4 123.1 L366.2 124.9 M437.3 167.0 L445.1 171.0 L453.0 174.9 L461.0 178.8 L469.0 182.5 L477.0 186.1 L485.1 189.6 L493.3 193.1 L501.4 196.4 L509.7 199.6 L517.9 202.7 L526.2 205.7"/>
<g class="ax">
<path d="M231.5 27.0 L237.5 392.5 L883.0 518.0 L1524.5 392.0"/>
<path class="tk" d="M237.8 389.9 h6.0"/>
<path class="tk" d="M237.3 362.2 h6.0"/>
<path class="tk" d="M236.8 334.5 h6.0"/>
<path class="tk" d="M236.3 306.8 h9.5"/>
<path class="tk" d="M235.8 279.0 h6.0"/>
<path class="tk" d="M235.3 251.2 h6.0"/>
<path class="tk" d="M234.8 223.3 h6.0"/>
<path class="tk" d="M234.3 195.4 h6.0"/>
<path class="tk" d="M233.7 167.4 h9.5"/>
<path class="tk" d="M233.2 139.4 h6.0"/>
<path class="tk" d="M232.7 111.4 h6.0"/>
<path class="tk" d="M232.2 83.3 h6.0"/>
<path class="tk" d="M231.7 55.2 h6.0"/>
<path class="tk" d="M231.1 27.0 h9.5"/>
<path class="tk" d="M248.4 394.3 L248.2 386.3"/>
<path class="tk" d="M281.8 400.8 L281.6 392.7"/>
<path class="tk" d="M316.1 407.5 L316.0 399.2"/>
<path class="tk" d="M351.4 414.4 L351.2 406.0"/>
<path class="tk" d="M387.6 421.4 L387.5 412.9"/>
<path class="tk" d="M424.9 428.7 L424.8 414.6"/>
<path class="tk" d="M463.3 436.2 L463.2 427.4"/>
<path class="tk" d="M502.9 443.8 L502.8 435.0"/>
<path class="tk" d="M543.6 451.8 L543.5 442.8"/>
<path class="tk" d="M585.5 459.9 L585.5 450.8"/>
<path class="tk" d="M628.8 468.3 L628.7 453.1"/>
<path class="tk" d="M673.4 477.0 L673.3 467.6"/>
<path class="tk" d="M719.4 486.0 L719.4 476.4"/>
<path class="tk" d="M767.0 495.2 L766.9 485.5"/>
<path class="tk" d="M816.1 504.8 L816.0 494.9"/>
<path class="tk" d="M866.8 514.6 L866.8 498.2"/>
<path class="tk" d="M1514.2 393.8 L1514.4 380.6"/>
<path class="tk" d="M1483.1 399.9 L1483.2 391.8"/>
<path class="tk" d="M1451.2 406.2 L1451.3 397.9"/>
<path class="tk" d="M1418.5 412.6 L1418.6 404.2"/>
<path class="tk" d="M1384.9 419.2 L1385.1 405.3"/>
<path class="tk" d="M1350.4 425.9 L1350.5 417.4"/>
<path class="tk" d="M1314.9 432.9 L1315.0 424.2"/>
<path class="tk" d="M1278.5 440.0 L1278.6 431.2"/>
<path class="tk" d="M1241.0 447.4 L1241.2 432.8"/>
<path class="tk" d="M1202.5 455.0 L1202.6 445.9"/>
<path class="tk" d="M1162.9 462.7 L1162.9 453.6"/>
<path class="tk" d="M1122.1 470.7 L1122.1 461.4"/>
<path class="tk" d="M1080.0 479.0 L1080.1 463.5"/>
<path class="tk" d="M1036.7 487.5 L1036.8 477.9"/>
<path class="tk" d="M992.1 496.2 L992.1 486.5"/>
<path class="tk" d="M946.1 505.3 L946.1 495.4"/>
<path class="tk" d="M898.6 514.6 L898.6 498.1"/>
</g>
<g style="opacity:0.999"><text id="t200" x="215.2" y="42.3" text-anchor="end" font-size="39">200</text>
<text id="t150" x="217.6" y="186.1" text-anchor="end" font-size="39">150</text>
<text id="t100" x="220.7" y="327.1" text-anchor="end" font-size="39">100</text>
<text id="n5" x="249.0" y="449.5" text-anchor="middle" font-size="39">5</text>
<text id="n6" x="425.2" y="483.5" text-anchor="middle" font-size="39">6</text>
<text id="n7" x="632.0" y="523.0" text-anchor="middle" font-size="39">7</text>
<text id="n8" x="867.0" y="569.3" text-anchor="middle" font-size="39">8</text>
<text id="p8" x="900.0" y="569.3" text-anchor="middle" font-size="39">8</text>
<text id="p6" x="1080.0" y="534.0" text-anchor="middle" font-size="39">6</text>
<text id="p4" x="1241.4" y="502.6" text-anchor="middle" font-size="39">4</text>
<text id="p2" x="1385.1" y="474.0" text-anchor="middle" font-size="39">2</text>
<text id="p0" x="1514.5" y="449.2" text-anchor="middle" font-size="39">0</text>
<text id="lgN" x="491.0" y="567.6" text-anchor="start" font-size="39">lg N</text>
<text id="sig1" style="font-weight:normal" transform="translate(0.5,238.9) scale(1.51,0.85)" font-size="39">σ</text>
<text id="sig2" x="31.6" y="238.9" text-anchor="start" font-size="39">a,</text>
<text id="sig3" x="68.2" y="238.9" text-anchor="start" font-size="39">МПа</text>
<text id="lg" x="1178.6" y="582.9" text-anchor="start" font-size="39">lg</text>
<text id="pn" x="1232.2" y="554.8" text-anchor="start" font-size="39">p</text>
<text id="p0s" x="1254.0" y="561.0" text-anchor="start" font-size="27">0</text>
<text id="pd" x="1243.0" y="618.6" text-anchor="start" font-size="39">p</text>
<rect x="1230.8" y="568.4" width="45.5" height="2.4" fill="#111"/>
<path class="par" d="M1225 529.5 C1215.5 544 1211.3 558 1211.3 572 C1211.3 586 1215.5 600 1225 614.7 C1218.5 600 1214.6 586 1214.6 572 C1214.6 558 1218.5 544 1225 529.5 Z"/>
<path class="par" d="M1280.3 529.5 C1289.8 544 1294 558 1294 572 C1294 586 1289.8 600 1280.3 614.7 C1286.8 600 1290.7 586 1290.7 572 C1290.7 558 1286.8 544 1280.3 529.5 Z"/></g>
</svg>
</body></html>
